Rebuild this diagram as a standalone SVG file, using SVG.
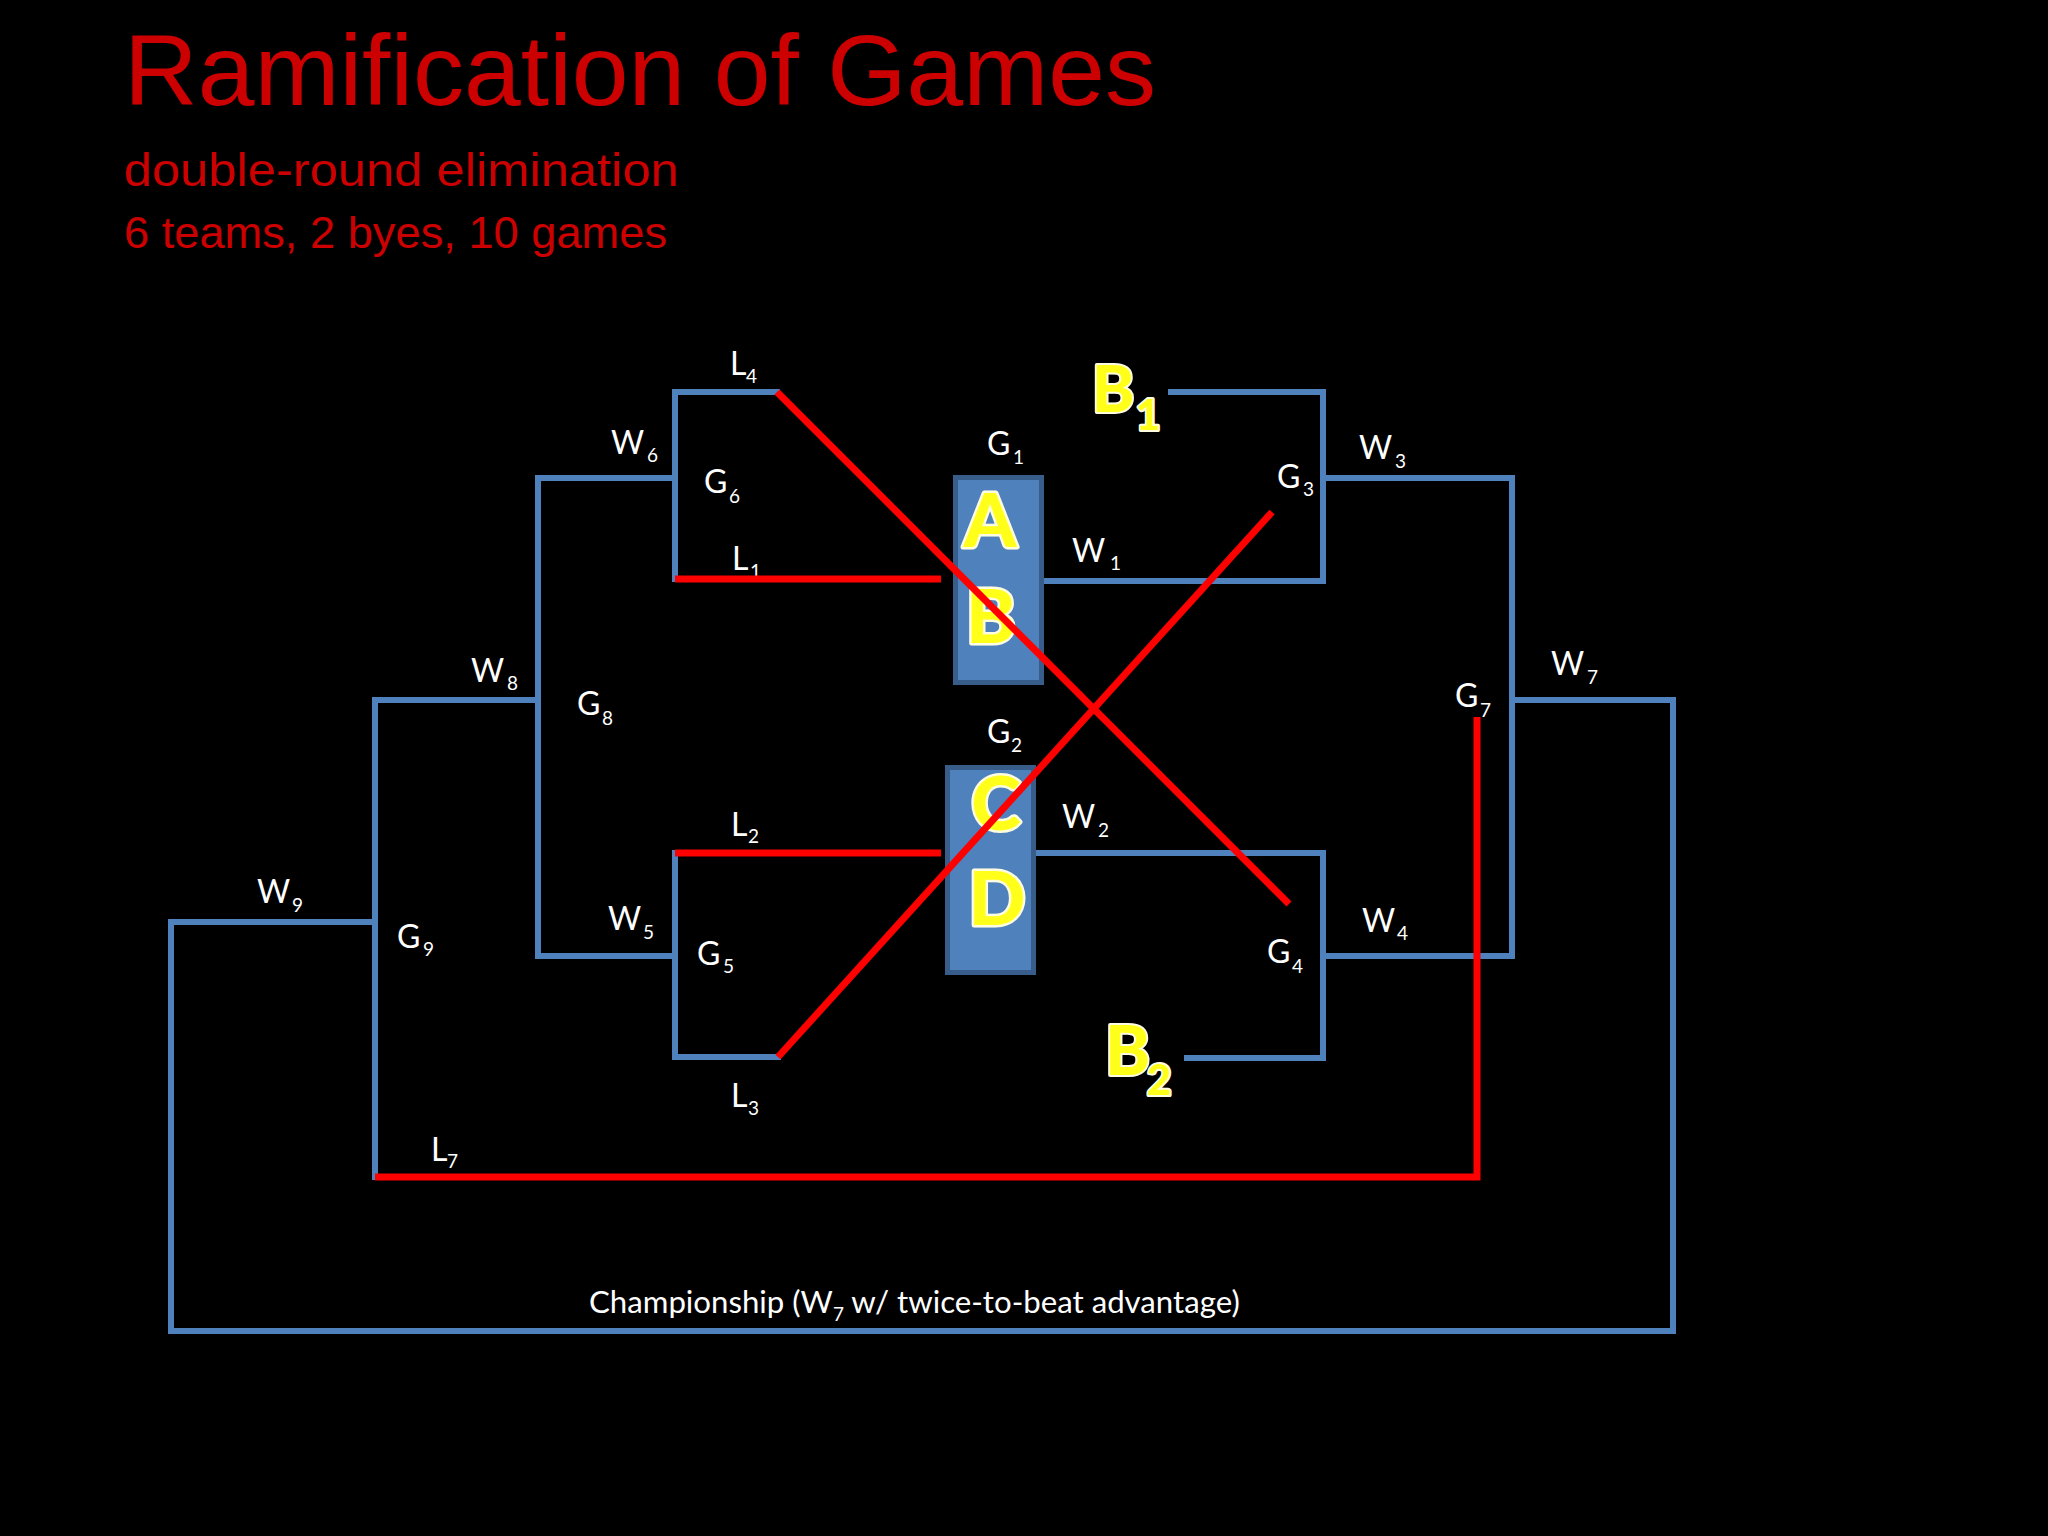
<svg xmlns="http://www.w3.org/2000/svg" width="2048" height="1536" viewBox="0 0 2048 1536">
<style>
.title{font-family:"Liberation Sans",Arial,sans-serif;fill:#CC0000}
.lbl{font-family:Lato,"Open Sans","DejaVu Sans",sans-serif;font-size:32px;fill:#ffffff}
.sub{font-size:19px}
.blue{fill:none;stroke:#4F81BD;stroke-width:6;stroke-linecap:square;stroke-linejoin:miter}
.red{fill:none;stroke:#FF0000;stroke-width:7;stroke-linecap:butt}
.box{fill:#4F81BD;stroke:#385D8A;stroke-width:5}
.team{font-family:Lato,"Open Sans","DejaVu Sans",sans-serif;font-weight:900;fill:#FFFF1A;stroke:#FFFDE0;stroke-width:5;paint-order:stroke;stroke-linejoin:round;text-anchor:middle}
.bye{font-family:Lato,"Open Sans","DejaVu Sans",sans-serif;font-weight:900;fill:#FFFF1A;stroke:#FFFDE0;stroke-width:4;paint-order:stroke;stroke-linejoin:round}
</style>
<rect x="0" y="0" width="2048" height="1536" fill="#000000"/>

<g id="heading">
<text class="title" x="124" y="105" font-size="100" textLength="1032" lengthAdjust="spacingAndGlyphs">Ramification of Games</text>
<text class="title" x="124" y="186" font-size="47" textLength="555" lengthAdjust="spacingAndGlyphs">double-round elimination</text>
<text class="title" x="124" y="248" font-size="45" textLength="543" lengthAdjust="spacingAndGlyphs">6 teams, 2 byes, 10 games</text>
</g>

<g id="connectors">
<path class="blue" d="M777,392 H675 V579"/>
<path class="blue" d="M538,478 H675"/>
<path class="blue" d="M538,478 V956 H675"/>
<path class="blue" d="M675,853 V1057 H778"/>
<path class="blue" d="M375,1177 V700 H538"/>
<path class="blue" d="M171,922 H375"/>
<path class="blue" d="M171,922 V1331 H1673 V700 H1512"/>
<path class="blue" d="M1323,478 H1512 V956 H1323"/>
<path class="blue" d="M1171,392 H1323 V581 H1041"/>
<path class="blue" d="M1035,853 H1323 V1058 H1187"/>
</g>

<g id="G1">
<rect class="box" x="955.5" y="477.5" width="86" height="205"/>
<text class="team" x="990" y="547" font-size="75">A</text>
<text class="team" x="991" y="643" font-size="75">B</text>
<text class="lbl" x="987" y="455">G<tspan class="sub" x="1013" y="464">1</tspan></text>
</g>

<g id="G2">
<rect class="box" x="947.5" y="767.5" width="86" height="205"/>
<text class="team" x="996" y="830" font-size="75">C</text>
<text class="team" x="997" y="925" font-size="75">D</text>
<text class="lbl" x="987" y="743">G<tspan class="sub" x="1011" y="752">2</tspan></text>
</g>

<g id="B1">
<text class="bye" x="1092" y="412" font-size="64">B<tspan x="1136" y="430" font-size="42">1</tspan></text>
</g>
<g id="B2">
<text class="bye" x="1105" y="1075" font-size="68">B<tspan x="1147" y="1095" font-size="42">2</tspan></text>
</g>

<g id="G3">
<text class="lbl" x="1277" y="488">G<tspan class="sub" x="1303" y="496">3</tspan></text>
</g>
<g id="G4">
<text class="lbl" x="1267" y="963">G<tspan class="sub" x="1292" y="973">4</tspan></text>
</g>
<g id="G5">
<text class="lbl" x="697" y="965">G<tspan class="sub" x="723" y="973">5</tspan></text>
</g>
<g id="G6">
<text class="lbl" x="704" y="493">G<tspan class="sub" x="729" y="503">6</tspan></text>
</g>
<g id="G7">
<text class="lbl" x="1455" y="707">G<tspan class="sub" x="1480" y="717">7</tspan></text>
</g>
<g id="G8">
<text class="lbl" x="577" y="715">G<tspan class="sub" x="602" y="725">8</tspan></text>
</g>
<g id="G9">
<text class="lbl" x="397" y="948">G<tspan class="sub" x="423" y="956">9</tspan></text>
</g>

<g id="edge-labels">
<text class="lbl" x="1072" y="562">W<tspan class="sub" x="1110" y="570">1</tspan></text>
<text class="lbl" x="1062" y="828">W<tspan class="sub" x="1098" y="837">2</tspan></text>
<text class="lbl" x="1359" y="459">W<tspan class="sub" x="1395" y="468">3</tspan></text>
<text class="lbl" x="1362" y="932">W<tspan class="sub" x="1397" y="940">4</tspan></text>
<text class="lbl" x="608" y="930">W<tspan class="sub" x="643" y="939">5</tspan></text>
<text class="lbl" x="611" y="454">W<tspan class="sub" x="647" y="462">6</tspan></text>
<text class="lbl" x="1551" y="675">W<tspan class="sub" x="1587" y="684">7</tspan></text>
<text class="lbl" x="471" y="682">W<tspan class="sub" x="507" y="690">8</tspan></text>
<text class="lbl" x="257" y="903">W<tspan class="sub" x="292" y="912">9</tspan></text>
<text class="lbl" x="732" y="570">L<tspan class="sub" x="750" y="578">1</tspan></text>
<text class="lbl" x="731" y="836">L<tspan class="sub" x="748" y="843">2</tspan></text>
<text class="lbl" x="731" y="1107">L<tspan class="sub" x="748" y="1115">3</tspan></text>
<text class="lbl" x="730" y="375">L<tspan class="sub" x="746" y="383">4</tspan></text>
<text class="lbl" x="431" y="1161">L<tspan class="sub" x="447" y="1168">7</tspan></text>
<text class="lbl" x="589" y="1313" style="font-size:31.2px">Championship (W<tspan class="sub" dy="8">7</tspan><tspan dy="-8"> w/ twice-to-beat advantage)</tspan></text>
</g>

<g id="loser-connectors">
<path class="red" d="M675,579 H941"/>
<path class="red" d="M675,853 H941"/>
<path class="red" d="M777,392 L1289,904"/>
<path class="red" d="M778,1057 L1272,512"/>
<path class="red" d="M375,1177 H1477 V717"/>
</g>
</svg>
